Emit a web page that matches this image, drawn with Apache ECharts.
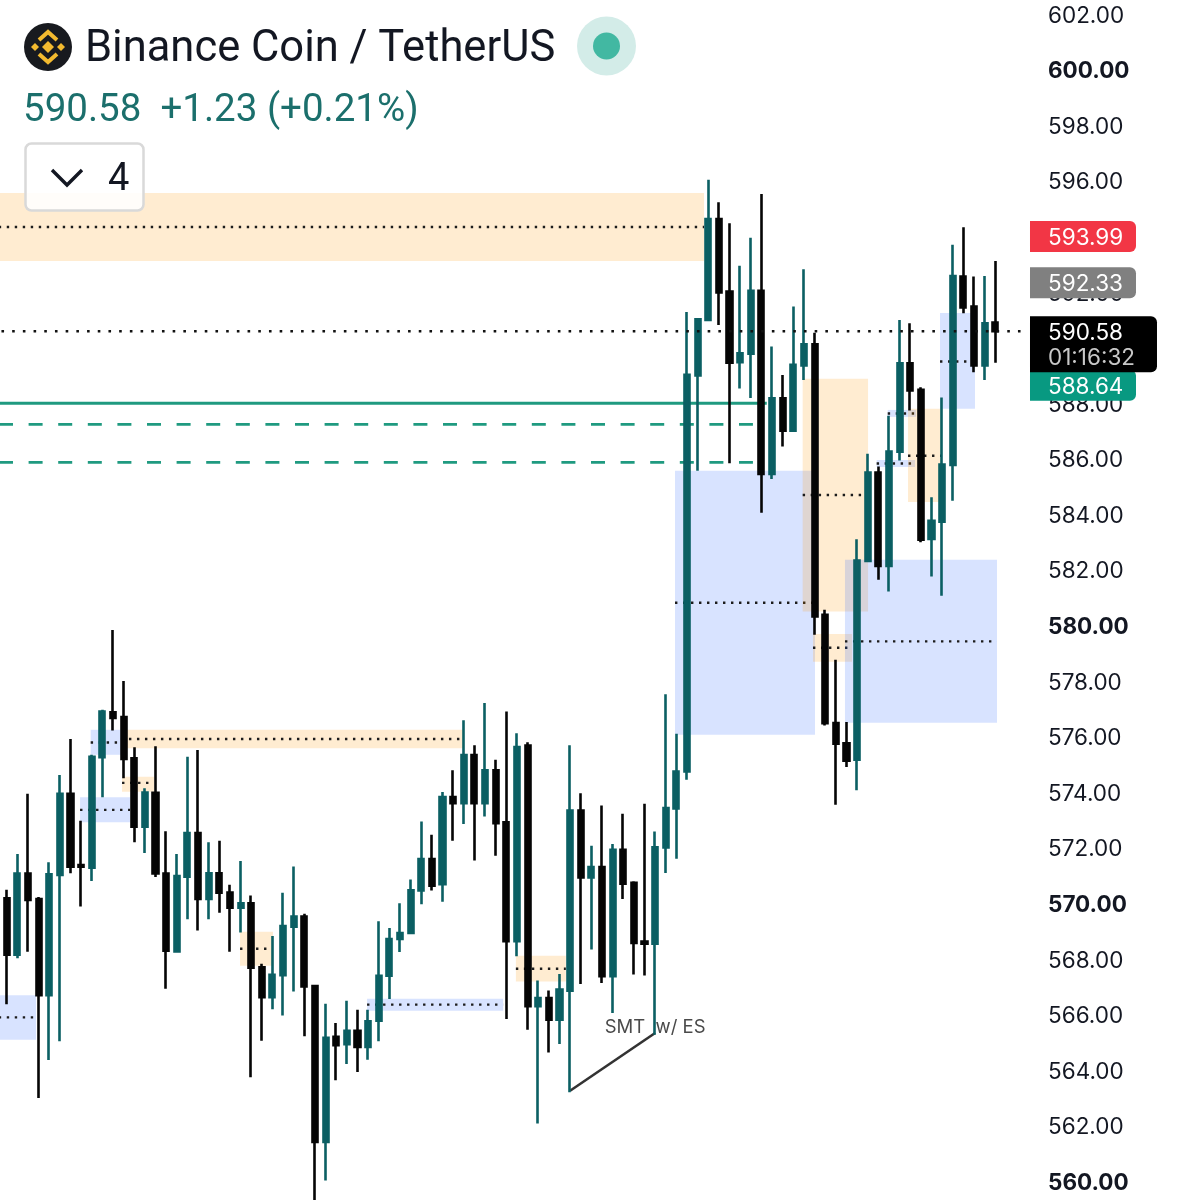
<!DOCTYPE html>
<html>
<head>
<meta charset="utf-8">
<title>Binance Coin / TetherUS</title>
<style>
html, body { margin: 0; padding: 0; background: #fff; overflow: hidden; }
#main { width: 1183px; height: 1200px; }
</style>
<script src="https://cdn.jsdelivr.net/npm/echarts@6/dist/echarts.min.js"></script>
</head>
<body>
<div id="main"></div>
<script>
// candle values, oldest first
var opens = [570.18,568.15,571.07,570.15,566.69,571.02,573.94,571.37,571.28,575.25,576.87,576.70,575.21,572.75,573.97,571.07,
  568.26,570.95,572.52,570.15,571.08,570.38,569.84,570.00,567.69,566.62,567.41,569.15,569.52,567.02,561.41,565.19,
  564.93,565.41,564.83,565.77,567.39,568.71,568.93,570.46,571.59,570.68,573.82,573.60,575.33,573.60,574.78,572.91,
  568.63,575.67,566.29,566.59,565.81,566.85,573.33,570.93,571.30,567.37,571.92,570.73,568.62,568.54,572.01,573.41,
  574.74,588.99,590.99,594.62,592.01,589.47,589.77,592.04,585.45,588.17,587.00,589.35,590.11,580.38,576.48,575.75,
  575.16,582.32,585.50,582.14,586.25,589.43,588.47,583.11,583.73,585.77,592.55,591.47,589.35,590.89];
var closes = [568.15,571.07,570.12,566.69,571.04,573.94,571.31,571.31,575.27,576.90,576.67,575.19,572.75,573.98,571.07,568.29,
  570.98,572.52,570.15,571.08,570.38,569.84,570.00,567.68,566.62,567.42,569.18,569.52,567.00,561.41,565.16,564.89,
  565.41,564.83,565.75,567.39,568.71,568.93,570.46,571.59,570.63,573.82,573.60,575.33,573.60,574.78,572.88,568.63,
  575.62,566.29,566.59,565.81,566.89,573.33,570.93,571.30,567.37,571.92,570.70,568.57,568.54,572.01,573.42,574.74,
  589.01,591.01,594.62,591.98,589.45,589.79,592.04,585.45,588.17,587.00,589.37,590.11,580.32,576.48,575.74,575.13,
  582.33,585.50,582.14,586.25,589.43,588.45,583.08,583.76,585.78,592.57,591.44,589.35,590.87,590.58];
var lows = [566.36,568.02,568.25,562.99,564.36,565.03,571.08,569.88,570.80,573.81,576.21,574.50,572.19,571.81,570.94,566.92,
  568.22,569.42,569.02,569.42,569.66,568.25,568.95,563.74,565.05,566.18,565.96,566.82,565.21,559.00,560.02,563.63,
  564.21,563.93,564.37,565.03,566.55,568.24,568.93,569.96,570.46,570.05,572.25,572.85,571.54,573.12,571.71,565.83,
  568.09,565.45,562.07,564.63,564.93,563.20,567.09,568.33,567.13,566.05,570.15,567.43,567.40,565.27,571.09,571.60,
  574.44,585.56,590.99,590.81,585.83,588.52,588.18,584.05,585.26,586.43,587.00,588.83,579.66,576.39,573.54,574.90,
  574.06,582.32,581.64,581.22,585.93,587.73,582.99,581.76,581.06,584.48,591.23,589.11,588.83,589.45];
var highs = [570.48,571.77,573.94,570.22,571.47,574.61,575.91,572.97,575.34,576.96,579.83,578.00,575.61,574.14,575.65,572.59,
  571.77,575.27,575.51,572.19,572.25,570.66,571.52,570.28,567.82,568.82,570.38,571.32,569.62,567.02,566.38,565.69,
  566.49,566.17,566.17,569.35,569.11,570.00,570.85,572.94,572.46,574.00,574.78,576.58,575.68,577.20,575.16,576.90,
  576.12,575.79,567.22,566.86,567.45,575.68,573.96,572.07,573.52,572.13,573.22,570.79,573.58,572.58,577.52,576.10,
  591.27,591.01,596.03,595.22,594.47,592.94,593.95,595.52,590.03,589.01,591.47,592.81,590.53,580.56,578.76,576.52,
  583.10,586.17,585.71,587.54,590.99,590.87,588.57,584.61,588.20,593.69,594.32,592.55,592.57,593.11];

// shaded zones: bar position from/to, price top/bottom/middle, 0 orange 1 blue
var zoneFrom = [-1.5,-1.5,7.9,10.75,10.85,6.9,21.95,33.9,47.9,62.87,74.88,75.85,78.86,82.88,81.84,84.79,87.8];
var zoneTo = [65.6,2.76,10.75,42.93,13.86,11.6,25.05,46.7,52.6,76.04,81.03,79.52,93.16,85.54,85.45,87.96,91.09];
var zoneTop = [595.56,566.69,576.24,576.24,574.55,573.81,568.97,566.56,568.11,585.56,588.87,579.69,582.36,587.75,585.95,587.79,591.24];
var zoneBottom = [593.11,565.09,575.34,575.58,574.01,572.91,567.75,566.13,567.18,576.06,580.50,578.69,576.49,587.50,585.70,584.44,587.79];
var zoneMid = [594.33,565.89,575.78,575.91,574.33,573.36,568.36,566.35,567.64,580.81,584.69,579.19,579.42,587.62,585.82,586.10,589.49];
var zoneKind = [0,1,1,0,0,1,0,1,0,1,0,0,1,1,1,0,1];

var lastPrice = 590.58;
var solidLevel = 587.99;
var dashedLevels = [587.23, 585.86];
var trendX = [53, 61];
var trendY = [563.25, 565.33];
var tagPrices = [593.99, 592.33, 588.64];
var tagColors = ['#f23645', '#808080', '#089981'];
var boldTicks = [600, 580, 570, 560];

var UP = '#0b5f63', DOWN = '#050505';
var candleData = opens.map(function (o, i) {
  return [i + 1, o, closes[i], lows[i], highs[i]];
});
var categories = [];
for (var c = 0; c < 98; c++) categories.push(String(c));

var myChart = echarts.init(document.getElementById('main'));

function renderZone(params, api) {
  var a = api.coord([api.value(0), api.value(2)]);
  var b = api.coord([api.value(1), api.value(3)]);
  var m = api.coord([api.value(0), api.value(4)]);
  var blue = api.value(5) === 1;
  return {
    type: 'group',
    children: [{
      type: 'rect',
      shape: { x: a[0], y: a[1], width: b[0] - a[0], height: b[1] - a[1] },
      style: { fill: blue ? 'rgba(41,98,255,0.18)' : 'rgba(255,152,0,0.18)' }
    }, {
      type: 'line',
      shape: { x1: a[0], y1: m[1], x2: b[0], y2: m[1] },
      style: { stroke: '#1c1c1c', lineWidth: 2.4, lineDash: [2.4, 5.6] }
    }]
  };
}

function renderTag(params, api) {
  var p = api.coord([96.5, api.value(0)]);
  var i = params.dataIndex;
  return {
    type: 'group',
    children: [{
      type: 'rect',
      shape: { x: p[0] - 2.5, y: p[1] - 15.5, width: 106, height: 31, r: [0, 6, 6, 0] },
      style: { fill: tagColors[i] }
    }, {
      type: 'text',
      style: {
        x: p[0] + 15.5, y: p[1] + 2, text: api.value(0).toFixed(2), fill: '#fff',
        font: '22.5px Inter', verticalAlign: 'middle'
      }
    }]
  };
}

function renderLastTag(params, api) {
  var p = api.coord([96.5, api.value(0)]);
  return {
    type: 'group',
    children: [{
      type: 'rect',
      shape: { x: p[0] - 2.5, y: p[1] - 15, width: 127, height: 56, r: [0, 6, 6, 0] },
      style: { fill: '#000' }
    }, {
      type: 'text',
      style: {
        x: p[0] + 15.5, y: p[1] + 2, text: api.value(0).toFixed(2), fill: '#fff',
        font: '22.5px Inter', verticalAlign: 'middle'
      }
    }, {
      type: 'text',
      style: {
        x: p[0] + 15.5, y: p[1] + 27, text: '01:16:32', fill: '#c8c8c8',
        font: '22.5px Inter', verticalAlign: 'middle'
      }
    }]
  };
}

function renderNote(params, api) {
  var p = api.coord([api.value(0), api.value(1)]);
  return {
    type: 'text',
    style: {
      x: p[0], y: p[1], text: 'SMT  w/ ES', fill: '#4a4a4a',
      font: '18.5px Inter', align: 'center', verticalAlign: 'middle'
    }
  };
}

var option = {
  animation: false,
  backgroundColor: '#fff',
  title: [{
    text: 'Binance Coin / TetherUS', left: 85, top: 28, padding: 0,
    textStyle: { fontFamily: 'Roboto', fontSize: 43.5, fontWeight: 400, color: '#131722' }
  }, {
    text: '590.58  +1.23 (+0.21%)', left: 23, top: 92, padding: 0,
    textStyle: { fontFamily: 'Roboto', fontSize: 38.5, fontWeight: 400, color: '#1b6f6c' }
  }],
  grid: { left: -9.245, top: -41.66, width: 1041.74, height: 1278.34, outerBoundsMode: 'none', containLabel: false },
  xAxis: [{
    type: 'category', data: categories, show: false
  }, {
    type: 'value', min: -1.5, max: 96.5, show: false
  }],
  yAxis: {
    type: 'value', position: 'right', min: 558, max: 604, interval: 2, scale: true,
    axisLine: { show: false }, axisTick: { show: false }, splitLine: { show: false },
    axisLabel: {
      margin: 15.5,
      padding: [4, 0, 0, 0],
      color: '#131722',
      fontFamily: 'Inter',
      fontSize: 22.5,
      formatter: function (v) {
        var s = v.toFixed(2);
        return boldTicks.indexOf(v) >= 0 ? '{b|' + s + '}' : s;
      },
      rich: { b: { fontFamily: 'Inter', fontSize: 22.5, fontWeight: 700, color: '#131722' } }
    }
  },
  graphic: [
    // logo
    { type: 'circle', shape: { cx: 48, cy: 47, r: 24 }, style: { fill: '#181a1f' }, z: 10 },
    { type: 'polygon', shape: { points: [[48, 41], [54, 47], [48, 53], [42, 47]] }, style: { fill: '#f3ba2f' }, z: 11 },
    { type: 'polyline', shape: { points: [[39, 40], [48, 32], [57, 40]] }, style: { stroke: '#f3ba2f', lineWidth: 4, fill: 'none' }, z: 11 },
    { type: 'polyline', shape: { points: [[39, 54], [48, 62], [57, 54]] }, style: { stroke: '#f3ba2f', lineWidth: 4, fill: 'none' }, z: 11 },
    { type: 'polygon', shape: { points: [[35, 43], [39, 47], [35, 51], [31, 47]] }, style: { fill: '#f3ba2f' }, z: 11 },
    { type: 'polygon', shape: { points: [[61, 43], [65, 47], [61, 51], [57, 47]] }, style: { fill: '#f3ba2f' }, z: 11 },
    // market status dot
    { type: 'circle', shape: { cx: 606.5, cy: 46, r: 29.5 }, style: { fill: '#d3ece8' }, z: 10 },
    { type: 'circle', shape: { cx: 606.5, cy: 46, r: 13.5 }, style: { fill: '#42b8a2' }, z: 11 },
    // collapse button
    { type: 'rect', shape: { x: 25.5, y: 143.5, width: 118, height: 67, r: 6 },
      style: { fill: 'rgba(255,255,255,0.88)', stroke: '#d9d9d9', lineWidth: 2.5 }, z: 20 },
    { type: 'polyline', shape: { points: [[52, 170], [67, 185], [82, 170]] },
      style: { stroke: '#131722', lineWidth: 3.4, fill: 'none' }, z: 21 },
    { type: 'text', style: { x: 108, y: 180, text: '4', fill: '#131722', font: '38px Roboto', verticalAlign: 'middle' }, z: 21 }
  ],
  series: [{
    // zones sit under everything
    type: 'custom', name: 'zones', xAxisIndex: 1, z: 1,
    renderItem: renderZone,
    encode: { x: [0, 1], y: [2, 3] },
    data: zoneFrom.map(function (f, i) {
      return [f, zoneTo[i], zoneTop[i], zoneBottom[i], zoneMid[i], zoneKind[i]];
    })
  }, {
    type: 'line', name: 'solid level', xAxisIndex: 1, z: 2, symbol: 'none', silent: true,
    lineStyle: { color: '#1f9a80', width: 2.8 },
    data: [[-1.5, solidLevel], [71.5, solidLevel]]
  }, {
    type: 'line', name: 'dashed level 1', xAxisIndex: 1, z: 2, symbol: 'none', silent: true,
    lineStyle: { color: '#1f9a80', width: 2.8, type: [14, 15.6], dashOffset: 21.35 },
    data: [[-1.5, dashedLevels[0]], [70.2, dashedLevels[0]]]
  }, {
    type: 'line', name: 'dashed level 2', xAxisIndex: 1, z: 2, symbol: 'none', silent: true,
    lineStyle: { color: '#1f9a80', width: 2.8, type: [14, 15.6], dashOffset: 21.35 },
    data: [[-1.5, dashedLevels[1]], [70.2, dashedLevels[1]]]
  }, {
    type: 'custom', name: 'smt note', xAxisIndex: 1, z: 3,
    renderItem: renderNote,
    encode: { x: 0, y: 1 },
    data: [[61, 565.53]]
  }, {
    type: 'line', name: 'smt', xAxisIndex: 1, z: 3, symbol: 'none', silent: true,
    lineStyle: { color: '#333', width: 2.6 },
    data: [[trendX[0], trendY[0]], [trendX[1], trendY[1]]]
  }, {
    type: 'candlestick', name: 'BNBUSDT', z: 4, barWidth: 5.6,
    encode: { x: 0, y: [1, 2, 3, 4] },
    itemStyle: { color: UP, color0: DOWN, borderColor: UP, borderColor0: DOWN, borderWidth: 2.6 },
    data: candleData
  }, {
    type: 'line', name: 'last price', xAxisIndex: 1, z: 5, symbol: 'none', silent: true,
    lineStyle: { color: '#111', width: 2.6, type: [2.6, 8.1] },
    data: [[-1.5, lastPrice], [96.1, lastPrice]]
  }, {
    type: 'custom', name: 'tags', xAxisIndex: 1, z: 30, clip: false,
    renderItem: renderTag,
    encode: { y: 0 },
    data: tagPrices.map(function (p) { return [p]; })
  }, {
    type: 'custom', name: 'last tag', xAxisIndex: 1, z: 31, clip: false,
    renderItem: renderLastTag,
    encode: { y: 0 },
    data: [[lastPrice]]
  }]
};

myChart.setOption(option);
window.addEventListener('resize', function () { myChart.resize(); });
</script>
</body>
</html>
